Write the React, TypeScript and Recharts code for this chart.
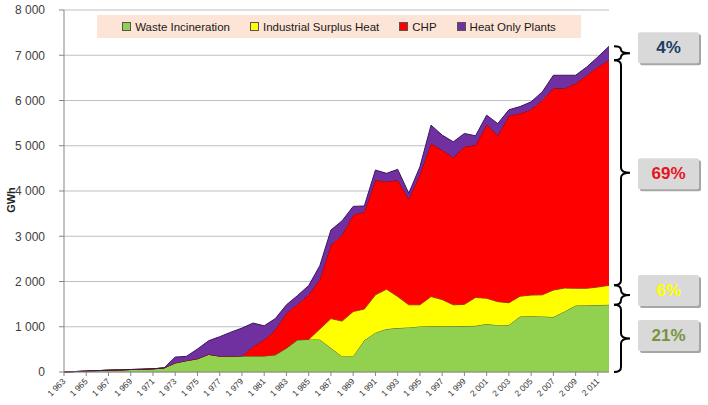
import React from 'react';
import { AreaChart, Area, XAxis, YAxis, CartesianGrid, ReferenceArea } from 'recharts';

const years = [
  1963, 1964, 1965, 1966, 1967, 1968, 1969, 1970, 1971, 1972,
  1973, 1974, 1975, 1976, 1977, 1978, 1979, 1980, 1981, 1982,
  1983, 1984, 1985, 1986, 1987, 1988, 1989, 1990, 1991, 1992,
  1993, 1994, 1995, 1996, 1997, 1998, 1999, 2000, 2001, 2002,
  2003, 2004, 2005, 2006, 2007, 2008, 2009, 2010, 2011, 2012,
];

const wasteIncineration = [
  0, 10, 20, 30, 40, 45, 55, 60, 70, 90,
  200, 250, 293, 390, 350, 350, 355, 355, 355, 380,
  529, 712, 720, 720, 529, 344, 350, 700, 870, 948,
  970, 985, 1006, 1010, 1010, 1010, 1015, 1020, 1060, 1035,
  1040, 1225, 1230, 1228, 1215, 1337, 1470, 1475, 1480, 1485,
];

const industrialSurplusHeat = [
  0, 0, 0, 0, 0, 0, 0, 0, 0, 0,
  0, 0, 0, 0, 0, 0, 0, 0, 0, 0,
  0, 0, 0, 230, 651, 781, 987, 690, 835, 883,
  698, 500, 479, 658, 590, 475, 480, 628, 570, 520,
  490, 450, 470, 477, 595, 518, 380, 375, 398, 430,
];

const chp = [
  0, 0, 0, 0, 0, 0, 0, 0, 0, 0,
  0, 0, 0, 0, 0, 0, 0, 210, 358, 553,
  772, 788, 985, 1100, 1628, 1904, 2133, 2153, 2537, 2374,
  2574, 2345, 2885, 3383, 3304, 3255, 3482, 3366, 3840, 3670,
  4135, 4038, 4101, 4302, 4455, 4410, 4525, 4708, 4864, 4974,
];

const heatOnlyPlants = [
  0, 0, 0, 0, 0, 0, 0, 0, 0, 0,
  130, 95, 214, 300, 430, 530, 615, 516, 308, 247,
  184, 190, 205, 300, 331, 311, 190, 126, 221, 185,
  236, 120, 166, 404, 331, 347, 295, 206, 206, 265,
  130, 152, 169, 183, 293, 293, 183, 184, 220, 309,
];

const yTicks = [0, 1000, 2000, 3000, 4000, 5000, 6000, 7000, 8000];

const seriesNames = ['Waste Incineration', 'Industrial Surplus Heat', 'CHP', 'Heat Only Plants'];
const seriesKeys = ['waste', 'surplus', 'chp', 'heatOnly'];
const seriesFill = ['#92d050', '#ffff00', '#ff0000', '#7030a0'];
const seriesStroke = ['#4f6228', '#6b5a00', '#7a0000', '#3b1660'];
const shareColors = ['#77933c', '#ffff00', '#e8141c', '#1f3d66'];
const shareBoxOffset = [-3, -4.5, 1, -5.5];

const data = years.map((year, i) => ({
  year,
  waste: wasteIncineration[i],
  surplus: industrialSurplusHeat[i],
  chp: chp[i],
  heatOnly: heatOnlyPlants[i],
}));

const fmtThousands = (v: number | string) =>
  String(v).replace(/\B(?=(\d{3})+(?!\d))/g, ' ');

const FONT = '"Liberation Sans", Arial, sans-serif';

const XTick = (props: any) => {
  const { x, y, payload } = props;
  return (
    <g transform={`translate(${x},${y})`}>
      <text
        x={0}
        y={0}
        transform="translate(2,4) rotate(-45)"
        textAnchor="end"
        fontSize={8.5}
        fill="#333"
        fontFamily={FONT}
      >
        {fmtThousands(payload.value)}
      </text>
    </g>
  );
};

const YLabel = (props: any) => {
  const vb = props.viewBox || {};
  const cx = (vb.x || 0) + 11;
  const cy = (vb.y || 0) + (vb.height || 0) / 2 + 9;
  return (
    <text
      x={cx}
      y={cy}
      transform={`rotate(-90, ${cx}, ${cy})`}
      textAnchor="middle"
      dominantBaseline="central"
      fontSize={11}
      fontWeight="bold"
      fill="#222"
      fontFamily={FONT}
    >
      GWh
    </text>
  );
};

const Brace = (props: any) => {
  const { x, y, width, height, text, color, offset } = props;
  if (x == null || y == null) return null;
  const xl = x + width + 5;
  const xv = xl + 7;
  const xt = xv + 9;
  const top = y;
  const bot = y + height;
  const mid = y + height / 2;
  const r = Math.min(5, height / 4);
  const d = `M${xl},${top} Q${xv},${top} ${xv},${top + r} L${xv},${mid - r} Q${xv},${mid} ${xt},${mid} Q${xv},${mid} ${xv},${mid + r} L${xv},${bot - r} Q${xv},${bot} ${xl},${bot}`;
  const bx = x + width + 29;
  const bw = 61;
  const bh = 31;
  const by = mid + offset - bh / 2;
  return (
    <g>
      <path d={d} fill="none" stroke="#000" strokeWidth={2} />
      <rect x={bx + 2} y={by + 2} width={bw} height={bh} rx={2} fill="#a6a6a6" />
      <rect x={bx} y={by} width={bw} height={bh} rx={2} fill="#d9d9d9" />
      <text
        x={bx + bw / 2}
        y={by + bh / 2}
        textAnchor="middle"
        dominantBaseline="central"
        fontSize={17}
        fontWeight="bold"
        fill={color}
        fontFamily={FONT}
      >
        {text}
      </text>
    </g>
  );
};

export default function App() {
  const last = years.length - 1;
  const lastValues = [
    wasteIncineration[last],
    industrialSurplusHeat[last],
    chp[last],
    heatOnlyPlants[last],
  ];
  const total = lastValues.reduce((a, b) => a + b, 0);
  const bounds: number[] = [0];
  lastValues.forEach((v) => bounds.push(bounds[bounds.length - 1] + v));

  return (
    <div style={{ position: 'absolute', left: 0, top: 0, width: 708, height: 405, background: '#fff' }}>
      <AreaChart
        width={708}
        height={405}
        data={data}
        margin={{ top: 10, right: 99, bottom: 0, left: 0 }}
      >
        <CartesianGrid horizontal vertical={false} stroke="#bfbfbf" strokeWidth={1.2} />
        <XAxis
          dataKey="year"
          interval={1}
          height={33}
          tick={<XTick />}
          tickSize={4}
          tickMargin={2}
          axisLine={{ stroke: '#868686' }}
          tickLine={{ stroke: '#868686' }}
        />
        <YAxis
          width={64}
          domain={[0, 8000]}
          ticks={yTicks}
          tickFormatter={fmtThousands}
          tickSize={5}
          tickMargin={14}
          tick={{ fontSize: 12, fill: '#404040', fontFamily: FONT }}
          axisLine={{ stroke: '#868686' }}
          tickLine={{ stroke: '#868686' }}
          label={{ content: <YLabel /> }}
        />
        {seriesKeys.map((k, i) => (
          <Area
            key={k}
            type="linear"
            dataKey={k}
            name={seriesNames[i]}
            stackId="a"
            fill={seriesFill[i]}
            fillOpacity={1}
            stroke={seriesStroke[i]}
            strokeWidth={1}
            isAnimationActive={false}
          />
        ))}
        {lastValues.map((v, i) => (
          <ReferenceArea
            key={`share-${i}`}
            y1={bounds[i]}
            y2={bounds[i + 1]}
            ifOverflow="visible"
            shape={(p: any) => (
              <Brace
                {...p}
                text={`${Math.round((v / total) * 100)}%`}
                color={shareColors[i]}
                offset={shareBoxOffset[i]}
              />
            )}
          />
        ))}
      </AreaChart>
      <div
        style={{
          position: 'absolute',
          left: 97,
          top: 15,
          width: 484,
          height: 23,
          background: '#fce4d6',
          display: 'flex',
          alignItems: 'center',
          justifyContent: 'center',
          gap: 20,
          fontFamily: FONT,
          fontSize: 11.5,
          color: '#1a1a1a',
        }}
      >
        {seriesNames.map((n, i) => (
          <div key={n} style={{ display: 'flex', alignItems: 'center', gap: 4 }}>
            <span
              style={{
                display: 'inline-block',
                width: 7,
                height: 7,
                background: seriesFill[i],
                border: '0.5px solid #555',
              }}
            />
            <span>{n}</span>
          </div>
        ))}
      </div>
    </div>
  );
}
